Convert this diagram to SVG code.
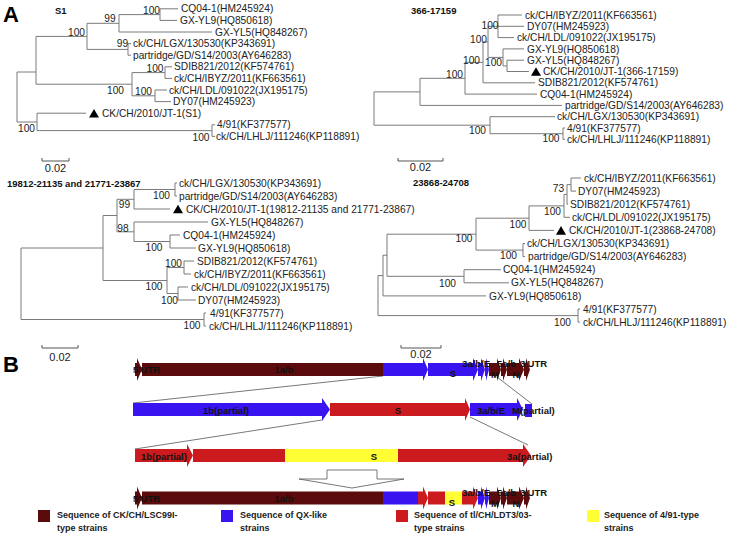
<svg xmlns="http://www.w3.org/2000/svg" width="740" height="556" viewBox="0 0 740 556">
<style>
text{font-family:"Liberation Sans",Arial,sans-serif;fill:#222}
.lf{font-size:10.2px}
.bs{font-size:10.2px;text-anchor:middle}
.ttl{font-size:9.5px;font-weight:bold;fill:#111}
.pl{font-size:22px;font-weight:bold;fill:#000}
.sc{font-size:11px;text-anchor:middle}
.br{fill:none;stroke:#7a7a7a;stroke-width:1}
.sb{fill:none;stroke:#555;stroke-width:1}
.gt{font-size:9.5px;font-weight:bold;fill:#111}
.gm{text-anchor:middle}
.lg{font-size:9px;font-weight:bold;fill:#222}
.mar{fill:#5b0b0b}.blu{fill:#3a14f0}.red{fill:#cc1b1e}.yel{fill:#ffff33}
.cn{fill:none;stroke:#555;stroke-width:0.8}
</style>
<defs><polygon id="tri" points="0,4.3 5,-4.3 10,4.3" fill="#000"/></defs>

<text class="pl" x="3" y="22">A</text>
<text class="pl" x="3" y="372">B</text>

<!-- Tree S1 -->
<g id="tree-S1">
<text class="ttl" x="55" y="13.5">S1</text>
<g id="tree-S1-connectors"><path class="br" d="M160,8.8V20.4M160,8.8H178M160,20.4H177M119,14.6V32M119,14.6H160M119,32H212M128,43.6V55.2M128,43.6H131M128,55.2H131M87,23.3V49.4M87,23.3H119M87,49.4H128M165,66.8V78.4M165,66.8H172M165,78.4H172M155,90V101.6M155,90H167M155,101.6H171M132,72.6V95.8M132,72.6H165M132,95.8H155M36,36.4V84.2M36,36.4H87M36,84.2H132M212,124.8V136.4M212,124.8H215M212,136.4H215M37,113.2V130.6M37,113.2H86M37,130.6H212M17,72V122M17,72H36M17,122H37"/></g>
<g id="s1-cq041"><text class="lf" x="181" y="12.4">CQ04-1(HM245924)</text></g>
<g id="s1-gxyl9"><text class="lf" x="180" y="24">GX-YL9(HQ850618)</text></g>
<g id="s1-gxyl5"><text class="lf" x="215" y="35.6">GX-YL5(HQ848267)</text></g>
<g id="s1-lgx"><text class="lf" x="133" y="47.2">ck/CH/LGX/130530(KP343691)</text></g>
<g id="s1-partridge"><text class="lf" x="133" y="58.8">partridge/GD/S14/2003(AY646283)</text></g>
<g id="s1-sdib"><text class="lf" x="174" y="70.4">SDIB821/2012(KF574761)</text></g>
<g id="s1-ibyz"><text class="lf" x="174" y="82">ck/CH/IBYZ/2011(KF663561)</text></g>
<g id="s1-ldl"><text class="lf" x="169" y="93.6">ck/CH/LDL/091022(JX195175)</text></g>
<g id="s1-dy07"><text class="lf" x="173" y="105.2">DY07(HM245923)</text></g>
<g id="s1-jt1"><use href="#tri" x="89" y="113.2"/><text class="lf" x="102" y="116.8">CK/CH/2010/JT-1(S1)</text></g>
<g id="s1-491"><text class="lf" x="217" y="128.4">4/91(KF377577)</text></g>
<g id="s1-lhlj"><text class="lf" x="216" y="140">ck/CH/LHLJ/111246(KP118891)</text></g>
<g id="s1-boot">
<text class="bs" x="151.5" y="13.5">100</text><text class="bs" x="110" y="21.5">99</text>
<text class="bs" x="76.5" y="35.5">100</text><text class="bs" x="122.5" y="47">99</text>
<text class="bs" x="155" y="71.5">100</text><text class="bs" x="115.5" y="93.5">100</text>
<text class="bs" x="143.5" y="94.5">100</text><text class="bs" x="26.5" y="131.5">100</text>
<text class="bs" x="201" y="140.5">100</text>
</g>
<path class="sb" d="M42,158V161H69V158"/><text class="sc" x="55.5" y="172">0.02</text>
</g>

<!-- Tree 366-17159 -->
<g id="tree-366">
<text class="ttl" x="411" y="13.5">366-17159</text>
<g id="tree-366-connectors"><path class="br" d="M498,15V37.6M498,15H522M498,26.3H524M498,37.6H514M507,60.2V71.5M507,60.2H524M507,71.5H529M503,48.9V65.9M503,48.9H524M503,65.9H507M488,26.3V57.4M488,26.3H498M488,57.4H503M483,41.9V82.8M483,41.9H488M483,82.8H535M465,62.4V94.1M465,62.4H483M465,94.1H537M420,78.3V105.4M420,78.3H465M420,105.4H562M563,128V139.3M563,128H565M563,139.3H565M490,116.7V133.7M490,116.7H555M490,133.7H563M374,91.9V125.2M374,91.9H420M374,125.2H490"/></g>
<g id="r-ibyz"><text class="lf" x="525" y="18.6">ck/CH/IBYZ/2011(KF663561)</text></g>
<g id="r-dy07"><text class="lf" x="527" y="29.9">DY07(HM245923)</text></g>
<g id="r-ldl"><text class="lf" x="517" y="41.2">ck/CH/LDL/091022(JX195175)</text></g>
<g id="r-gxyl9"><text class="lf" x="527" y="52.5">GX-YL9(HQ850618)</text></g>
<g id="r-gxyl5"><text class="lf" x="527" y="63.8">GX-YL5(HQ848267)</text></g>
<g id="r-jt1"><use href="#tri" x="531" y="71.5"/><text class="lf" x="543" y="75.1">CK/CH/2010/JT-1(366-17159)</text></g>
<g id="r-sdib"><text class="lf" x="538" y="86.4">SDIB821/2012(KF574761)</text></g>
<g id="r-cq041"><text class="lf" x="540" y="97.7">CQ04-1(HM245924)</text></g>
<g id="r-partridge"><text class="lf" x="565" y="109">partridge/GD/S14/2003(AY646283)</text></g>
<g id="r-lgx"><text class="lf" x="557" y="120.3">ck/CH/LGX/130530(KP343691)</text></g>
<g id="r-491"><text class="lf" x="567" y="131.6">4/91(KF377577)</text></g>
<g id="r-lhlj"><text class="lf" x="567" y="142.9">ck/CH/LHLJ/111246(KP118891)</text></g>
<g id="r-boot">
<text class="bs" x="490" y="28.5">100</text><text class="bs" x="478.5" y="42.5">100</text>
<text class="bs" x="471.5" y="63.5">100</text><text class="bs" x="493.5" y="65.5">100</text>
<text class="bs" x="454.5" y="77.5">100</text><text class="bs" x="477.5" y="133.5">100</text>
<text class="bs" x="551" y="141.5">100</text>
</g>
<path class="sb" d="M398,158V161H443V158"/><text class="sc" x="420.5" y="171">0.02</text>
</g>

<!-- Tree 19812-21135 and 21771-23867 -->
<g id="tree-19812">
<text class="ttl" x="7" y="186.5">19812-21135 and 21771-23867</text>
<g id="tree-19812-connectors"><path class="br" d="M175,183V196M175,183H177M175,196H177M134,189.5V209M134,189.5H175M134,209H170M170,235V248M170,235H180M170,248H196M134,222V241.5M134,222H208M134,241.5H170M117,199.3V231.8M117,199.3H134M117,231.8H134M184,261V274M184,261H194M184,274H191M178,287V300M178,287H188M178,300H196M167,267.5V293.5M167,267.5H184M167,293.5H178M103,215.5V280.5M103,215.5H117M103,280.5H167M204,313V326M204,313H206M204,326H206M21,248V319.5M21,248H103M21,319.5H204"/></g>
<g id="b-lgx"><text class="lf" x="179" y="186.6">ck/CH/LGX/130530(KP343691)</text></g>
<g id="b-partridge"><text class="lf" x="179" y="199.6">partridge/GD/S14/2003(AY646283)</text></g>
<g id="b-jt1"><use href="#tri" x="173" y="209"/><text class="lf" x="186" y="212.6">CK/CH/2010/JT-1(19812-21135 and 21771-23867)</text></g>
<g id="b-gxyl5"><text class="lf" x="211" y="225.6">GX-YL5(HQ848267)</text></g>
<g id="b-cq041"><text class="lf" x="183" y="238.6">CQ04-1(HM245924)</text></g>
<g id="b-gxyl9"><text class="lf" x="198" y="251.6">GX-YL9(HQ850618)</text></g>
<g id="b-sdib"><text class="lf" x="197" y="264.6">SDIB821/2012(KF574761)</text></g>
<g id="b-ibyz"><text class="lf" x="194" y="277.6">ck/CH/IBYZ/2011(KF663561)</text></g>
<g id="b-ldl"><text class="lf" x="191" y="290.6">ck/CH/LDL/091022(JX195175)</text></g>
<g id="b-dy07"><text class="lf" x="198" y="303.6">DY07(HM245923)</text></g>
<g id="b-491"><text class="lf" x="210" y="316.6">4/91(KF377577)</text></g>
<g id="b-lhlj"><text class="lf" x="209" y="329.6">ck/CH/LHLJ/111246(KP118891)</text></g>
<g id="b-boot">
<text class="bs" x="161.5" y="199">100</text><text class="bs" x="124.5" y="208">99</text>
<text class="bs" x="123" y="232">98</text><text class="bs" x="154" y="251">100</text>
<text class="bs" x="173.5" y="267">100</text><text class="bs" x="154" y="290">100</text>
<text class="bs" x="169.5" y="304">100</text><text class="bs" x="192" y="329">100</text>
</g>
<path class="sb" d="M42,345V348H78V345"/><text class="sc" x="60" y="361">0.02</text>
</g>

<!-- Tree 23868-24708 -->
<g id="tree-23868">
<text class="ttl" x="413" y="185.5">23868-24708</text>
<g id="tree-23868-connectors"><path class="br" d="M571,178V191.1M571,178H581M571,191.1H576M567,184.6V204.2M567,184.6H571M567,204.2H568M564,194.4V217.3M564,194.4H567M564,217.3H570M529,205.9V230.4M529,205.9H564M529,230.4H554M523,243.5V256.6M523,243.5H525M523,256.6H525M476,218.2V250.1M476,218.2H529M476,250.1H523M464,269.7V282.8M464,269.7H501M464,282.8H509M387,234.2V276.3M387,234.2H476M387,276.3H464M383,255.2V295.9M383,255.2H387M383,295.9H486M578,309V322.1M578,309H580M578,322.1H580M378,275.6V315.6M378,275.6H383M378,315.6H578"/></g>
<g id="d-ibyz"><text class="lf" x="584" y="181.6">ck/CH/IBYZ/2011(KF663561)</text></g>
<g id="d-dy07"><text class="lf" x="578" y="194.7">DY07(HM245923)</text></g>
<g id="d-sdib"><text class="lf" x="570" y="207.8">SDIB821/2012(KF574761)</text></g>
<g id="d-ldl"><text class="lf" x="572" y="220.9">ck/CH/LDL/091022(JX195175)</text></g>
<g id="d-jt1"><use href="#tri" x="556" y="230.4"/><text class="lf" x="569" y="234">CK/CH/2010/JT-1(23868-24708)</text></g>
<g id="d-lgx"><text class="lf" x="527" y="247.1">ck/CH/LGX/130530(KP343691)</text></g>
<g id="d-partridge"><text class="lf" x="528" y="260.2">partridge/GD/S14/2003(AY646283)</text></g>
<g id="d-cq041"><text class="lf" x="503" y="273.3">CQ04-1(HM245924)</text></g>
<g id="d-gxyl5"><text class="lf" x="511" y="286.4">GX-YL5(HQ848267)</text></g>
<g id="d-gxyl9"><text class="lf" x="489" y="299.5">GX-YL9(HQ850618)</text></g>
<g id="d-491"><text class="lf" x="583" y="312.6">4/91(KF377577)</text></g>
<g id="d-lhlj"><text class="lf" x="583" y="325.7">ck/CH/LHLJ/111246(KP118891)</text></g>
<g id="d-boot">
<text class="bs" x="558.5" y="191.5">73</text><text class="bs" x="552.5" y="214.5">100</text>
<text class="bs" x="518" y="228">100</text><text class="bs" x="464" y="242">100</text>
<text class="bs" x="508.5" y="259">100</text><text class="bs" x="447.5" y="286.5">100</text>
<text class="bs" x="562.5" y="326">100</text>
</g>
<path class="sb" d="M401,345V348H441V345"/><text class="sc" x="421" y="358">0.02</text>
</g>

<!-- Panel B connectors -->
<g id="b-connectors">
<path class="cn" d="M383,376L133,403M497,377L532,404M322,420L135,449M470,417L528,445"/>
<polygon points="327,470 377,470 377,479 404,479 352,488 299,479 327,479" fill="#fff" stroke="#555" stroke-width="0.8"/>
</g>

<!-- Row 1 -->
<g id="row1">
<path class="mar" d="M135,363H137V358L142,369.5L137,381V376H135Z"/>
<rect class="mar" x="142" y="363" width="241" height="13"/>
<path class="blu" d="M383,363H423V358L428,369.5L423,381V376H383Z"/>
<path class="blu" d="M428,363H473V358L478,369.5L473,381V376H428Z"/>
<path class="blu" d="M478,363H481V358L485,369.5L481,381V376H478Z"/>
<path class="blu" d="M485,363H486V358L489,369.5L486,381V376H485Z"/>
<path class="mar" d="M489,363H497V358L501,369.5L497,381V376H489Z"/>
<path class="mar" d="M501,363H503V358L507,369.5L503,381V376H501Z"/>
<path class="mar" d="M507,363H519V358L524,369.5L519,381V376H507Z"/>
<path class="mar" d="M524,363H526V358L530,369.5L526,381V376H524Z"/>
<text class="gt" x="133" y="373">5'UTR</text>
<text class="gt gm" x="284" y="373">1a/b</text>
<text class="gt gm" x="453" y="377">S</text>
<text class="gt" x="462" y="367">3a/b/E</text>
<text class="gt gm" x="495" y="378">M</text>
<text class="gt" x="497" y="367">5a/b</text>
<text class="gt gm" x="516" y="378">N</text>
<text class="gt" x="520" y="367">3'UTR</text>
</g>

<!-- Row 2 -->
<g id="row2">
<path class="blu" d="M133,403H322V398L330,409.5L322,421V416H133Z"/>
<path class="red" d="M330,403H465V398L470,409.5L465,421V416H330Z"/>
<path class="blu" d="M470,403H517V398L523,409.5L517,421V416H470Z"/>
<rect class="blu" x="525" y="404" width="7" height="13"/>
<text class="gt gm" x="226" y="413.5">1b(partial)</text>
<text class="gt gm" x="398" y="413.5">S</text>
<text class="gt" x="477" y="413.5">3a/b/E</text>
<text class="gt" x="512" y="413.5">M(partial)</text>
</g>

<!-- Row 3 -->
<g id="row3">
<path class="red" d="M135,449H187V444L193,455.5L187,467V462H135Z"/>
<rect class="red" x="193" y="449" width="92" height="13"/>
<rect class="yel" x="285" y="449" width="113" height="13"/>
<path class="red" d="M398,449H523V444L531,455.5L523,467V462H398Z"/>
<text class="gt" x="141" y="459.5">1b(partial)</text>
<text class="gt gm" x="374" y="460">S</text>
<text class="gt" x="507" y="459.5">3a(partial)</text>
</g>

<!-- Row 4 -->
<g id="row4">
<path class="mar" d="M135,491.5H137V486.5L142,498L137,509.5V504.5H135Z"/>
<rect class="mar" x="142" y="491.5" width="241" height="13"/>
<rect class="blu" x="383" y="491.5" width="35" height="13"/>
<path class="red" d="M418,491.5H423V486.5L428,498L423,509.5V504.5H418Z"/>
<rect class="red" x="428" y="491.5" width="17" height="13"/>
<rect class="yel" x="445" y="491.5" width="17" height="13"/>
<path class="red" d="M462,491.5H473V486.5L478,498L473,509.5V504.5H462Z"/>
<path class="blu" d="M478,491.5H481V486.5L485,498L481,509.5V504.5H478Z"/>
<path class="blu" d="M485,491.5H486V486.5L489,498L486,509.5V504.5H485Z"/>
<path class="mar" d="M489,491.5H497V486.5L501,498L497,509.5V504.5H489Z"/>
<path class="mar" d="M501,491.5H503V486.5L507,498L503,509.5V504.5H501Z"/>
<path class="mar" d="M507,491.5H519V486.5L524,498L519,509.5V504.5H507Z"/>
<path class="mar" d="M524,491.5H526V486.5L530,498L526,509.5V504.5H524Z"/>
<text class="gt" x="133" y="502">5'UTR</text>
<text class="gt gm" x="284" y="502">1a/b</text>
<text class="gt gm" x="452" y="506">S</text>
<text class="gt" x="462" y="496">3a/b/E</text>
<text class="gt gm" x="495" y="507">M</text>
<text class="gt" x="497" y="496">5a/b</text>
<text class="gt gm" x="516" y="507">N</text>
<text class="gt" x="520" y="496">3'UTR</text>
</g>

<!-- Legend -->
<g id="legend-lsc99i"><rect class="mar" x="38" y="510" width="12" height="12"/><text class="lg" x="57" y="518">Sequence of CK/CH/LSC99I-</text><text class="lg" x="57" y="531">type strains</text></g>
<g id="legend-qx"><rect class="blu" x="221" y="510" width="12" height="12"/><text class="lg" x="240" y="518">Sequence of QX-like</text><text class="lg" x="240" y="531">strains</text></g>
<g id="legend-ldt3"><rect class="red" x="396" y="510" width="12" height="12"/><text class="lg" x="414" y="518">Sequence of tl/CH/LDT3/03-</text><text class="lg" x="414" y="531">type strains</text></g>
<g id="legend-491"><rect class="yel" x="587" y="510" width="12" height="12"/><text class="lg" x="604" y="518">Sequence of 4/91-type</text><text class="lg" x="604" y="531">strains</text></g>
</svg>
